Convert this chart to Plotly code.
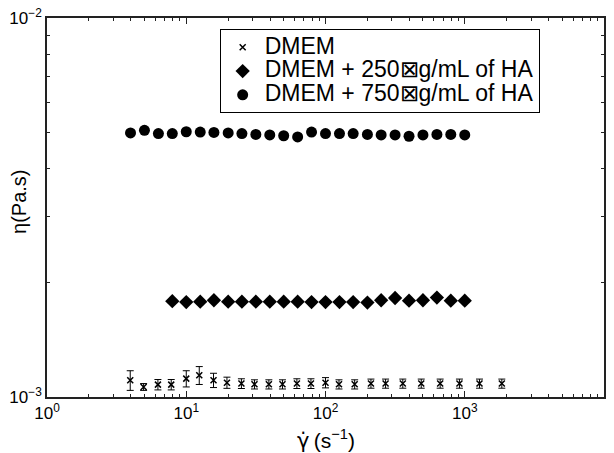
import plotly.graph_objects as go

# DMEM
shear_dmem = [3.96, 4.94, 6.26, 7.8, 10.0, 12.4, 15.7, 19.6, 24.9, 30.9, 39.2, 49.1, 62.3,
              78.6, 100, 125, 162, 212, 270, 359, 487, 666, 916, 1276, 1846]
eta_dmem = [1.107e-3, 1.063e-3, 1.078e-3, 1.078e-3, 1.118e-3, 1.141e-3, 1.107e-3, 1.091e-3,
            1.085e-3, 1.080e-3, 1.080e-3, 1.080e-3, 1.085e-3, 1.085e-3, 1.091e-3, 1.080e-3,
            1.080e-3, 1.085e-3, 1.085e-3, 1.085e-3, 1.085e-3, 1.085e-3, 1.085e-3, 1.085e-3, 1.085e-3]
err_dmem = [0.066e-3, 0.022e-3, 0.034e-3, 0.034e-3, 0.055e-3, 0.062e-3, 0.048e-3, 0.037e-3,
            0.032e-3, 0.030e-3, 0.030e-3, 0.030e-3, 0.032e-3, 0.032e-3, 0.034e-3, 0.030e-3,
            0.030e-3, 0.030e-3, 0.030e-3, 0.030e-3, 0.030e-3, 0.030e-3, 0.030e-3, 0.030e-3, 0.030e-3]

# DMEM + 250 ug/mL HA
shear_250 = [7.94, 10.0, 12.6, 15.8, 20.0, 25.1, 31.6, 39.8, 50.1, 63.1, 79.4, 100, 126,
             158, 200, 251, 316, 398, 501, 631, 794, 1000]
eta_250 = [1.79e-3, 1.78e-3, 1.785e-3, 1.80e-3, 1.785e-3, 1.785e-3, 1.785e-3, 1.785e-3,
           1.785e-3, 1.785e-3, 1.78e-3, 1.78e-3, 1.78e-3, 1.78e-3, 1.775e-3, 1.80e-3,
           1.825e-3, 1.795e-3, 1.80e-3, 1.83e-3, 1.795e-3, 1.795e-3]

# DMEM + 750 ug/mL HA
shear_750 = [3.98, 5.01, 6.31, 7.94, 10.0, 12.6, 15.8, 20.0, 25.1, 31.6, 39.8, 50.1, 63.1,
             79.4, 100, 126, 158, 200, 251, 316, 398, 501, 631, 794, 1000]
eta_750 = [4.975e-3, 5.055e-3, 4.954e-3, 4.954e-3, 5.01e-3, 5.0e-3, 4.99e-3, 4.975e-3,
           4.954e-3, 4.93e-3, 4.915e-3, 4.89e-3, 4.855e-3, 5.0e-3, 4.954e-3, 4.954e-3,
           4.954e-3, 4.93e-3, 4.915e-3, 4.915e-3, 4.875e-3, 4.915e-3, 4.93e-3, 4.93e-3, 4.915e-3]

names = ["DMEM", "DMEM + 250\u22a0g/mL of HA", "DMEM + 750\u22a0g/mL of HA"]

x_tickvals = [1, 10, 100, 1000, 10000]
x_ticktext = ["10<sup>0</sup>", "10<sup>1</sup>", "10<sup>2</sup>", "10<sup>3</sup>", "10<sup>4</sup>"]
y_tickvals = [1e-3, 1e-2]
y_ticktext = ["10<sup>\u22123</sup>", "10<sup>\u22122</sup>"]

x_title = "<span style=\"font-family:'DejaVu Sans'\">\u03b3\u0307</span>\u2009(s<sup>\u22121</sup>)"
y_title = "\u03b7(Pa.s)"

x_minor = [m * 10 ** k for k in range(0, 4) for m in range(2, 10)]
y_minor = [m * 1e-3 for m in range(2, 10)]

FONT = "Liberation Sans, Arial, sans-serif"


def big(s):
    return '<span style="font-size:23px">' + s + "</span>"


fig = go.Figure()
fig.add_trace(go.Scatter(
    x=shear_dmem, y=eta_dmem, mode="markers", name=big(names[0]),
    marker=dict(symbol="x-thin", size=6, color="black", line=dict(width=1.5, color="black")),
    error_y=dict(type="data", array=err_dmem, visible=True, color="black", thickness=1, width=3.5),
))
fig.add_trace(go.Scatter(
    x=shear_250, y=eta_250, mode="markers", name=big(names[1]),
    marker=dict(symbol="diamond", size=11, color="black"),
))
fig.add_trace(go.Scatter(
    x=shear_750, y=eta_750, mode="markers", name=big(names[2]),
    marker=dict(symbol="circle", size=11, color="black"),
))

axis_common = dict(
    showgrid=False, zeroline=False, showline=True, linecolor="#222", linewidth=1.5,
    mirror="allticks", ticks="inside", ticklen=6, tickcolor="#222", tickwidth=1,
    tickfont=dict(family=FONT, size=17, color="black"), automargin=False,
)

fig.update_xaxes(
    type="log", range=[0, 4], tickmode="array", tickvals=x_tickvals, ticktext=x_ticktext,
    minor=dict(tickmode="array", tickvals=x_minor, ticks="inside", ticklen=3, tickcolor="#222"),
    **axis_common,
)
fig.update_yaxes(
    type="log", range=[-3, -2], tickmode="array", tickvals=y_tickvals, ticktext=y_ticktext,
    minor=dict(tickmode="array", tickvals=y_minor, ticks="inside", ticklen=3, tickcolor="#222"),
    **axis_common,
)

fig.update_layout(
    width=614, height=453,
    margin=dict(l=47, r=10, t=18, b=56),
    paper_bgcolor="white", plot_bgcolor="white",
    font=dict(family=FONT, size=17, color="black"),
    showlegend=True,
    legend=dict(
        x=0.31, y=0.97, xanchor="left", yanchor="top",
        bgcolor="white", bordercolor="black", borderwidth=1,
        font=dict(family=FONT, size=16, color="black"),
        tracegroupgap=0, itemsizing="trace", itemwidth=34,
    ),
    annotations=[
        dict(text=x_title, xref="paper", yref="paper", x=0.5, y=-0.113,
             xanchor="center", yanchor="middle", showarrow=False,
             font=dict(family=FONT, size=21, color="black")),
        dict(text=y_title, xref="paper", yref="paper", x=-0.05, y=0.515,
             xanchor="center", yanchor="middle", showarrow=False, textangle=-90,
             font=dict(family=FONT, size=20, color="black")),
    ],
)

fig.write_html("out.html", config={"displayModeBar": False},
               post_script="document.body.style.margin='0px';")
